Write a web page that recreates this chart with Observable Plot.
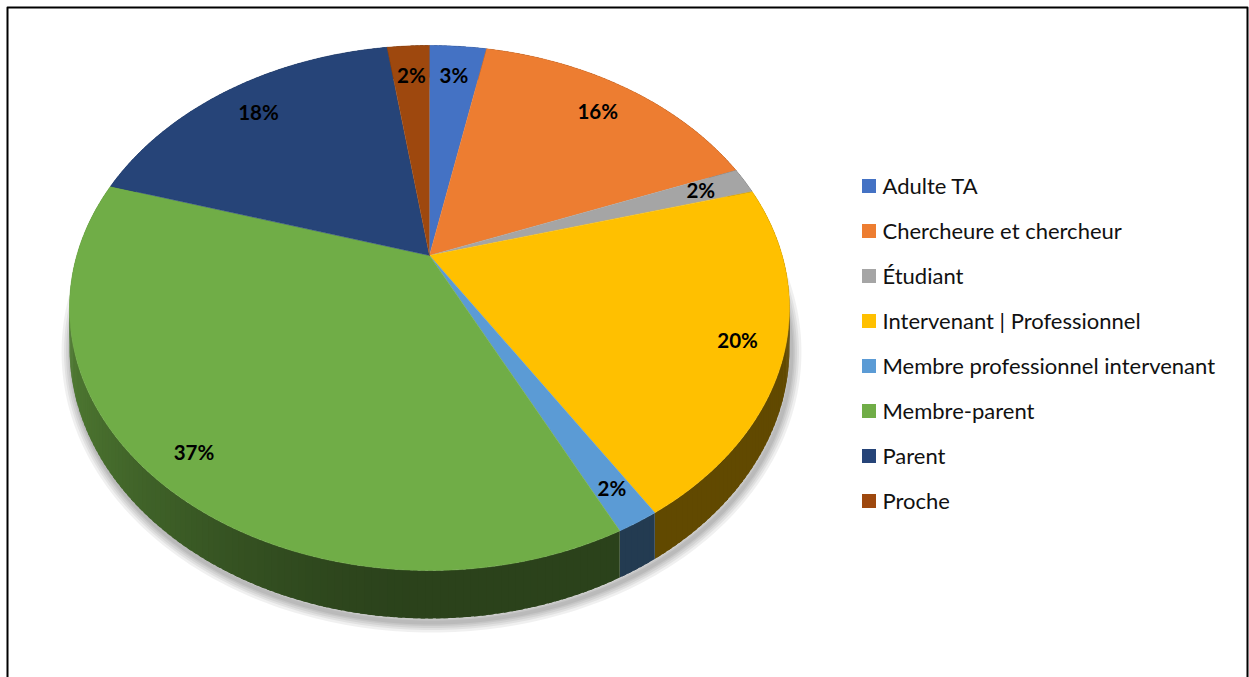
<!DOCTYPE html>
<html>
<head>
<meta charset="utf-8">
<script src="https://cdn.jsdelivr.net/npm/d3@7"></script>
<script src="https://cdn.jsdelivr.net/npm/@observablehq/plot@0.6"></script>
<style>
  html, body { margin: 0; padding: 0; background: #fff; }
  #chart svg { display: block; }
</style>
</head>
<body>
<div id="chart"></div>
<script>
// ---- data ----
const categories = [
  "Adulte TA",
  "Chercheure et chercheur",
  "Étudiant",
  "Intervenant | Professionnel",
  "Membre professionnel intervenant",
  "Membre-parent",
  "Parent",
  "Proche"
];
const shares = [3.1, 16.0, 1.6, 20.4, 1.6, 37.0, 18.0, 2.3];
const colors = ["#4472C4", "#ED7D31", "#A5A5A5", "#FFC000", "#5B9BD5", "#70AD47", "#264478", "#9E480E"];

// ---- layout (3D perspective pie) ----
const W = 1249, H = 677;
const cx = 429, cy = 255;       // projected centre of the pie
const ax = 352.7, by = 252;     // horizontal / vertical radii factors
const persp = -0.2;             // perspective factor
const depth = 38.4;             // thickness
const total = d3.sum(shares);
const DEG = Math.PI / 180;

function proj(phi, r, z) {
  const u = r * Math.sin(phi), v = -r * Math.cos(phi);
  const den = 1 + persp * v;
  return {x: cx + ax * u / den, y: cy + (by * v + z) / den};
}

let acc = 0;
const slices = categories.map((c, i) => {
  const a0 = acc / total * 2 * Math.PI;
  acc += shares[i];
  const a1 = acc / total * 2 * Math.PI;
  return {name: c, value: shares[i], color: colors[i], a0, a1,
          label: Math.round(shares[i] / total * 100) + "%"};
});

function shade(hex, phi) {
  const f = 0.38 + 0.34 * Math.pow(Math.max(0, -Math.sin(phi)), 1.6);
  const c = d3.rgb(hex);
  return d3.rgb(c.r * f, c.g * f, c.b * f).formatHex();
}

// soft shadow: outline of the bottom rim, stroked in several widths
const shadowPts = [];
for (let k = 0; k <= 360; k++) {
  const p = proj(k * DEG, 1, depth);
  shadowPts.push({x: p.x + 2, y: p.y + 4, id: "s"});
}
const shadowWidths = [20, 15, 11, 7, 4];

// side walls (small overlapping quads with shading)
const wallPts = [];
let q = 0;
slices.forEach(s => {
  const n = Math.max(2, Math.ceil((s.a1 - s.a0) / DEG));
  for (let j = 0; j < n; j++) {
    const pa = s.a0 + (s.a1 - s.a0) * j / n;
    const pb0 = s.a0 + (s.a1 - s.a0) * (j + 1) / n;
    const pb = j < n - 1 ? pb0 + 0.6 * DEG : pb0;
    const col = shade(s.color, (pa + pb0) / 2);
    const id = "w" + (q++);
    [proj(pa, 1, 0), proj(pb, 1, 0), proj(pb, 1, depth), proj(pa, 1, depth)]
      .forEach(p => wallPts.push({x: p.x, y: p.y, id, color: col}));
  }
});

// top faces
const topPts = [];
slices.forEach((s, i) => {
  const id = "t" + i;
  topPts.push({x: cx, y: cy, id, color: s.color});
  const n = Math.max(4, Math.ceil((s.a1 - s.a0) / (DEG / 2)));
  for (let j = 0; j <= n; j++) {
    const p = proj(s.a0 + (s.a1 - s.a0) * j / n, 1, 0);
    topPts.push({x: p.x, y: p.y, id, color: s.color});
  }
});

// labels
const labels = slices.map(s => {
  const mid = (s.a0 + s.a1) / 2;
  const r = 0.865 - 0.035 * Math.cos(mid);
  const p = proj(mid, r, 0);
  return {x: p.x, y: p.y, text: s.label};
});

// legend
const legX = 862, legY0 = 186, legStep = 45, sw = 14;
const legend = slices.map((s, i) => ({
  x1: legX, x2: legX + sw, y1: legY0 + i * legStep - sw / 2, y2: legY0 + i * legStep + sw / 2,
  color: s.color, name: s.name, tx: legX + sw + 6, ty: legY0 + i * legStep
}));

const framePts = [{x: 7, y: 7}, {x: 1247, y: 7}, {x: 1247, y: 700}, {x: 7, y: 700}, {x: 7, y: 7}];

const chart = Plot.plot({
  width: W, height: H, margin: 0,
  x: {domain: [0, W], range: [0, W], axis: null},
  y: {domain: [0, H], range: [0, H], axis: null},
  color: {type: "identity"},
  style: {fontFamily: "Lato, 'Open Sans', sans-serif", background: "#fff"},
  marks: [
    ...shadowWidths.map(w => Plot.line(shadowPts, {x: "x", y: "y", z: "id", stroke: "#000", strokeOpacity: 0.06, strokeWidth: w, fill: "none"})),
    Plot.line(wallPts, {x: "x", y: "y", z: "id", fill: "color", stroke: "none"}),
    Plot.line(topPts, {x: "x", y: "y", z: "id", fill: "color", stroke: "color", strokeWidth: 0.5}),
    Plot.text(labels, {x: "x", y: "y", text: "text", fontSize: 20.5, fontWeight: "bold", fill: "#000"}),
    Plot.rect(legend, {x1: "x1", x2: "x2", y1: "y1", y2: "y2", fill: "color"}),
    Plot.text(legend, {x: "tx", y: "ty", text: "name", textAnchor: "start", fontSize: 22, fill: "#111"}),
    Plot.line(framePts, {x: "x", y: "y", stroke: "#000", strokeWidth: 2})
  ]
});

document.getElementById("chart").appendChild(chart);
</script>
</body>
</html>
